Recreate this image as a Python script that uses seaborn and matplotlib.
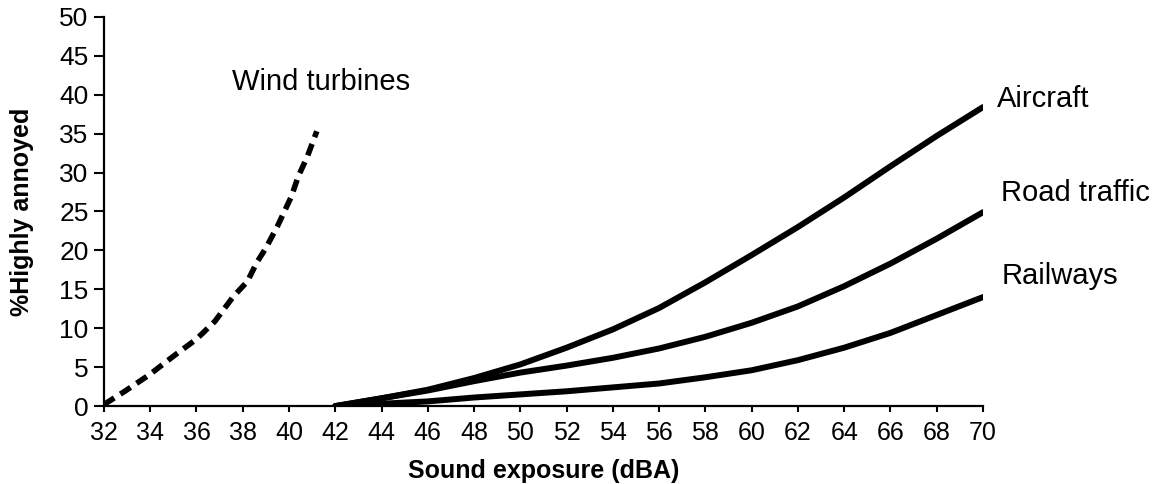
import numpy as np
import pandas as pd
import matplotlib
matplotlib.use('Agg')
import matplotlib.pyplot as plt
import seaborn as sns

# values
exposure = [42, 44, 46, 48, 50, 52, 54, 56, 58, 60, 62, 64, 66, 68, 70]
aircraft = [0, 1.0, 2.1, 3.6, 5.35, 7.5, 9.85, 12.6, 15.9, 19.4, 23.0, 26.8, 30.8, 34.7, 38.4]
road_traffic = [0, 1.0, 2.0, 3.2, 4.3, 5.2, 6.2, 7.4, 8.9, 10.7, 12.8, 15.4, 18.3, 21.5, 24.9]
railways = [0, 0.3, 0.6, 1.1, 1.5, 1.9, 2.4, 2.9, 3.7, 4.6, 5.9, 7.5, 9.4, 11.7, 14.0]

wind_exposure = [32.0, 32.9, 34.0, 35.0, 36.0, 36.8, 37.6, 38.2, 38.6, 39.0, 39.5, 39.8, 40.1, 40.4, 40.8, 41.2]
wind_turbines = [0.2, 1.9, 4.1, 6.4, 8.6, 10.9, 14.1, 16.0, 18.4, 20.3, 23.1, 25.0, 26.9, 29.5, 32.1, 35.3]

sns.set_theme(style='ticks')
plt.rcParams['font.family'] = ['Liberation Sans', 'DejaVu Sans']
plt.rcParams['text.color'] = 'black'
plt.rcParams['axes.labelcolor'] = 'black'

df = pd.DataFrame({'dB': exposure, 'Aircraft': aircraft,
                   'Road traffic': road_traffic, 'Railways': railways})
df_wind = pd.DataFrame({'dB': wind_exposure, 'HA': wind_turbines})

fig = plt.figure(figsize=(11.68, 4.84), dpi=100)
ax = fig.add_axes([0.089, 0.161, 0.7526, 0.8043])

for col in ['Aircraft', 'Road traffic', 'Railways']:
    sns.lineplot(data=df, x='dB', y=col, color='black', lw=4.3, ax=ax)
sns.lineplot(data=df_wind, x='dB', y='HA', color='black', lw=4.0,
             linestyle=(0, (2.2, 1.3)), sort=False, ax=ax)

ax.set_xlim(32, 70)
ax.set_ylim(0, 50)
ax.set_xticks(range(32, 71, 2))
ax.set_yticks(range(0, 51, 5))
ax.tick_params(axis='x', labelsize=18, width=1.5, length=4.5, colors='black', pad=6)
ax.tick_params(axis='y', labelsize=19, width=1.5, length=7, colors='black', pad=4)
for s in ['top', 'right']:
    ax.spines[s].set_visible(False)
for s in ['left', 'bottom']:
    ax.spines[s].set_linewidth(1.6)
    ax.spines[s].set_color('black')

ax.set_xlabel('Sound exposure (dBA)', fontsize=18, fontweight='bold')
ax.set_ylabel('%Highly annoyed', fontsize=18, fontweight='bold')
ax.xaxis.set_label_coords(0.5, -0.135)
ax.yaxis.set_label_coords(-0.08, 0.5)

ax.text(37.55, 41.6, 'Wind turbines', fontsize=21, va='center', ha='left')
ax.text(70.6, 39.4, 'Aircraft', fontsize=21, va='center', ha='left', clip_on=False)
ax.text(70.8, 27.4, 'Road traffic', fontsize=21, va='center', ha='left', clip_on=False)
ax.text(70.8, 16.7, 'Railways', fontsize=21, va='center', ha='left', clip_on=False)

fig.savefig('out.png', dpi=100)
